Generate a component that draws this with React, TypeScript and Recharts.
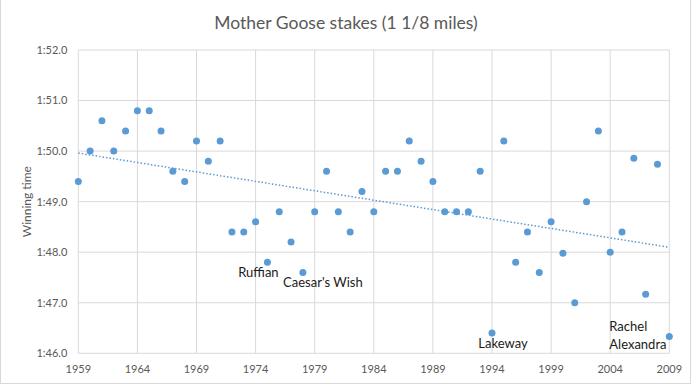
import React from 'react';
import {
  ScatterChart,
  Scatter,
  XAxis,
  YAxis,
  CartesianGrid,
  ReferenceLine
} from 'recharts';

// Mother Goose stakes winning times, in seconds (1:49.4 -> 109.4)
const years = [
  1959, 1960, 1961, 1962, 1963, 1964, 1965, 1966, 1967, 1968,
  1969, 1970, 1971, 1972, 1973, 1974, 1975, 1976, 1977, 1978,
  1979, 1980, 1981, 1982, 1983, 1984, 1985, 1986, 1987, 1988,
  1989, 1990, 1991, 1992, 1993, 1994, 1995, 1996, 1997, 1998,
  1999, 2000, 2001, 2002, 2003, 2004, 2005, 2006, 2007, 2008,
  2009
];
const winningTimes = [
  109.4, 110.0, 110.6, 110.0, 110.4, 110.8, 110.8, 110.4, 109.6, 109.4,
  110.2, 109.8, 110.2, 108.4, 108.4, 108.6, 107.8, 108.8, 108.2, 107.6,
  108.8, 109.6, 108.8, 108.4, 109.2, 108.8, 109.6, 109.6, 110.2, 109.8,
  109.4, 108.8, 108.8, 108.8, 109.6, 106.4, 110.2, 107.8, 108.4, 107.6,
  108.6, 107.98, 107.0, 109.0, 110.4, 108.0, 108.4, 109.86, 107.17, 109.74,
  106.33
];
const labelYears = [1975, 1978, 1994, 2009];
const labelNames = ['Ruffian', "Caesar's Wish", 'Lakeway', 'Rachel Alexandra'];
const xTicks = [1959, 1964, 1969, 1974, 1979, 1984, 1989, 1994, 1999, 2004, 2009];
const yTicks = [106, 107, 108, 109, 110, 111, 112];

const BLUE = '#5b9bd5';
const GRID = '#d9d9d9';
const AXIS_TEXT = '#595959';

// where each name sits relative to its point
const labelPlacement: Record<string, { dx: number; dy: number; anchor: string; wrap?: boolean }> = {
  'Ruffian': { dx: -9, dy: 10, anchor: 'middle' },
  "Caesar's Wish": { dx: 20, dy: 10, anchor: 'middle' },
  'Lakeway': { dx: 11, dy: 10, anchor: 'middle' },
  'Rachel Alexandra': { dx: -60, dy: -11, anchor: 'start', wrap: true }
};

const chartData = years.map((year, i) => {
  const idx = labelYears.indexOf(year);
  return { year, time: winningTimes[i], label: idx >= 0 ? labelNames[idx] : null };
});

// least squares trend line, like Excel's linear trendline
const n = years.length;
const meanX = years.reduce((a, b) => a + b, 0) / n;
const meanY = winningTimes.reduce((a, b) => a + b, 0) / n;
let sxy = 0;
let sxx = 0;
years.forEach((x, i) => {
  sxy += (x - meanX) * (winningTimes[i] - meanY);
  sxx += (x - meanX) * (x - meanX);
});
const slope = sxy / sxx;
const trendAt = (x: number) => meanY + slope * (x - meanX);
const firstYear = years[0];
const lastYear = years[years.length - 1];

const formatTime = (v: number) => `1:${(v - 60).toFixed(1)}`;

const PointShape = (props: any) => {
  const { cx, cy, payload } = props;
  const place = payload.label ? labelPlacement[payload.label] : null;
  return (
    <g>
      <circle cx={cx} cy={cy} r={3.5} fill={BLUE} />
      {place && (
        place.wrap ? (
          payload.label.split(' ').map((word: string, k: number) => (
            <text
              key={k}
              x={cx + place.dx}
              y={cy + place.dy + k * 18.3}
              textAnchor={place.anchor}
              dominantBaseline="central"
              fontSize={13}
              fill="#1a1a1a"
            >
              {word}
            </text>
          ))
        ) : (
          <text
            x={cx + place.dx}
            y={cy + place.dy}
            textAnchor={place.anchor}
            dominantBaseline="central"
            fontSize={13}
            fill="#1a1a1a"
          >
            {payload.label}
          </text>
        )
      )}
    </g>
  );
};

const YLabel = (props: any) => {
  const { viewBox } = props;
  const x = viewBox.x + 8.4;
  const y = viewBox.y + viewBox.height / 2;
  return (
    <text
      x={x}
      y={y}
      transform={`rotate(-90, ${x}, ${y})`}
      textAnchor="middle"
      dominantBaseline="central"
      fontSize={12}
      fill={AXIS_TEXT}
    >
      Winning time
    </text>
  );
};

const App: React.FC = () => {
  return (
    <div
      style={{
        position: 'absolute',
        left: 0,
        top: 0,
        width: 696,
        height: 386,
        fontFamily: 'Lato, sans-serif',
        background: '#fff'
      }}
    >
      <div
        style={{
          position: 'absolute',
          left: 0,
          top: -1,
          width: 691,
          height: 385,
          borderLeft: `1px solid ${GRID}`,
          borderRight: `1px solid ${GRID}`,
          borderBottom: `1px solid ${GRID}`,
          boxSizing: 'border-box'
        }}
      />
      <div
        style={{
          position: 'absolute',
          left: 0,
          top: 11,
          width: 692,
          textAlign: 'center',
          fontSize: 17.5,
          lineHeight: '24px',
          color: AXIS_TEXT
        }}
      >
        Mother Goose stakes (1 1/8 miles)
      </div>
      <ScatterChart
        width={696}
        height={386}
        margin={{ top: 50, right: 26.7, bottom: 7.7, left: 18.3 }}
      >
        <CartesianGrid stroke={GRID} />
        <XAxis
          type="number"
          dataKey="year"
          domain={[1959, 2009]}
          ticks={xTicks}
          axisLine={false}
          tickLine={false}
          tickSize={0}
          tickMargin={12}
          height={25}
          tick={{ fontSize: 11, fill: AXIS_TEXT }}
        />
        <YAxis
          type="number"
          dataKey="time"
          domain={[106, 112]}
          ticks={yTicks}
          tickFormatter={formatTime}
          axisLine={false}
          tickLine={false}
          tickSize={0}
          tickMargin={11}
          width={60}
          tick={{ fontSize: 11, fill: AXIS_TEXT }}
          label={{ content: <YLabel /> }}
        />
        <ReferenceLine
          segment={[
            { x: firstYear, y: trendAt(firstYear) },
            { x: lastYear, y: trendAt(lastYear) }
          ]}
          stroke={BLUE}
          strokeWidth={1.5}
          strokeDasharray="1.5 2"
        />
        <Scatter
          data={chartData}
          fill={BLUE}
          shape={<PointShape />}
          isAnimationActive={false}
        />
      </ScatterChart>
    </div>
  );
};

export default App;
